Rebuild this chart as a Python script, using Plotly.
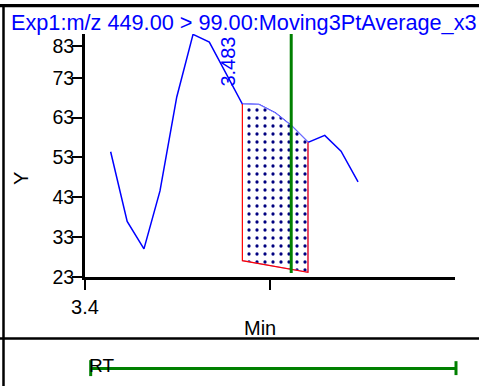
import plotly.graph_objects as go

# ---- data ----
times = [3.4104, 3.4171, 3.4239, 3.4304, 3.4372, 3.4438, 3.4504, 3.4572,
         3.4638, 3.4705, 3.4771, 3.4838, 3.4904, 3.4972, 3.5038, 3.5107]
intensity = [54.45, 36.95, 30.05, 44.6, 68.2, 83.9, 81.95, 74.25,
             66.4, 66.3, 64.2, 60.9, 56.8, 58.55, 54.6, 46.9]
peak_start, peak_end = 8, 12          # indices of integrated peak bounds
baseline_y = [27.1, 24.2]             # baseline at peak start / peak end
rt_value = 3.4836
rt_label = "3.483"
rt_line_y = [24.0, 84.0]

x_tickvals = [3.4, 3.475]
x_ticktext = ["3.4", ""]
y_tickvals = [23, 33, 43, 53, 63, 73, 81]
y_ticktext = ["23", "33", "43", "53", "63", "73", "83"]
x_range = [3.4, 3.55]
y_range = [23, 84]

title_text = "Exp1:m/z 449.00 > 99.00:Moving3PtAverage_x3"

# ---- layout geometry (pixels) ----
W, H = 479, 387
L, R, T, B = 85, 24, 33.5, 109.5
PW, PH = W - L - R, H - T - B


def px(xp):
    return (xp - L) / PW


def py(yp):
    return (H - B - yp) / PH


fig = go.Figure()

# chromatogram line
fig.add_trace(go.Scatter(x=times, y=intensity, mode="lines",
                         line=dict(color="#0000FF", width=1.5),
                         hoverinfo="skip"))

# integrated peak area
pk_x = times[peak_start:peak_end + 1]
pk_y = intensity[peak_start:peak_end + 1]
area_x = pk_x + [pk_x[-1], pk_x[0]]
area_y = pk_y + [baseline_y[1], baseline_y[0]]
fig.add_trace(go.Scatter(x=area_x, y=area_y, mode="lines", fill="toself",
                         fillcolor="white",
                         fillpattern=dict(shape=".", fgcolor="#000080",
                                          bgcolor="white", size=8,
                                          solidity=0.13, fgopacity=1),
                         line=dict(color="#8080FF", width=1),
                         hoverinfo="skip"))
# red outline: left edge, baseline, right edge
fig.add_trace(go.Scatter(x=[pk_x[0], pk_x[0], pk_x[-1], pk_x[-1]],
                         y=[pk_y[0], baseline_y[0], baseline_y[1], pk_y[-1]],
                         mode="lines", line=dict(color="#FF0000", width=1.2),
                         hoverinfo="skip"))

# RT marker line
fig.add_trace(go.Scatter(x=[rt_value, rt_value], y=rt_line_y, mode="lines",
                         line=dict(color="#008000", width=3),
                         hoverinfo="skip"))

fig.add_annotation(x=3.458, y=77.1, xref="x", yref="y", text=rt_label,
                   textangle=-90, showarrow=False,
                   font=dict(family="Liberation Sans, Arial", size=20, color="#0000FF"))

# title
fig.add_annotation(x=px(9), y=py(22), xref="paper", yref="paper",
                   text=title_text, showarrow=False, xanchor="left", yanchor="middle",
                   font=dict(family="Liberation Sans, Arial", size=21.7, color="#0000FF"))
# axis titles
fig.add_annotation(x=px(259.5), y=py(328.5), xref="paper", yref="paper",
                   text="Min", showarrow=False, xanchor="center", yanchor="middle",
                   font=dict(family="Liberation Sans, Arial", size=20, color="black"))
fig.add_annotation(x=px(21), y=py(179), xref="paper", yref="paper",
                   text="Y", showarrow=False, textangle=-90,
                   xanchor="center", yanchor="middle",
                   font=dict(family="Liberation Sans, Arial", size=20, color="black"))
# bottom panel label
fig.add_annotation(x=px(87), y=py(366), xref="paper", yref="paper",
                   text="RT", showarrow=False, xanchor="left", yanchor="middle",
                   font=dict(family="Liberation Sans, Arial", size=19, color="black"))

shapes = []
# frame lines
shapes.append(dict(type="line", xref="paper", yref="paper",
                   x0=px(0), x1=px(W), y0=py(5.2), y1=py(5.2),
                   line=dict(color="black", width=3), layer="above"))
shapes.append(dict(type="line", xref="paper", yref="paper",
                   x0=px(3.5), x1=px(3.5), y0=py(3.5), y1=py(H),
                   line=dict(color="black", width=2.5)))
shapes.append(dict(type="line", xref="paper", yref="paper",
                   x0=px(0), x1=px(W), y0=py(339.3), y1=py(339.3),
                   line=dict(color="black", width=2.5)))
# RT range bar
shapes.append(dict(type="line", xref="paper", yref="paper",
                   x0=px(90.7), x1=px(456), y0=py(369.3), y1=py(369.3),
                   line=dict(color="#008000", width=3)))
shapes.append(dict(type="line", xref="paper", yref="paper",
                   x0=px(90.7), x1=px(90.7), y0=py(361), y1=py(377),
                   line=dict(color="#008000", width=3)))
shapes.append(dict(type="line", xref="paper", yref="paper",
                   x0=px(456), x1=px(456), y0=py(362), y1=py(376),
                   line=dict(color="#008000", width=3)))

fig.update_layout(
    width=W, height=H,
    margin=dict(l=L, r=R, t=T, b=B, pad=0, autoexpand=False),
    paper_bgcolor="white", plot_bgcolor="white",
    showlegend=False,
    shapes=shapes,
    font=dict(family="Liberation Sans, Arial", color="black"),
    xaxis=dict(range=x_range, tickvals=x_tickvals, ticktext=x_ticktext,
               automargin=False,
               showgrid=False, zeroline=False, showline=True,
               linecolor="black", linewidth=3, ticks="outside",
               ticklen=10, tickwidth=2, tickcolor="black",
               tickfont=dict(size=20), ticklabelstandoff=0),
    yaxis=dict(range=y_range, tickvals=y_tickvals, ticktext=y_ticktext,
               automargin=False,
               showgrid=False, zeroline=False, showline=True,
               linecolor="black", linewidth=3, ticks="outside",
               ticklen=10, tickwidth=2, tickcolor="black",
               tickfont=dict(size=19.5), ticklabelstandoff=-6),
)

fig.write_html("out.html",
               config={"displayModeBar": False},
               post_script="document.body.style.margin='0';"
                           "document.body.style.overflow='hidden';"
                           "var d=document.createElement('div');"
                           "d.style.cssText='position:absolute;left:0;top:3.7px;"
                           "width:479px;height:3px;background:#000;';"
                           "document.body.appendChild(d);")
